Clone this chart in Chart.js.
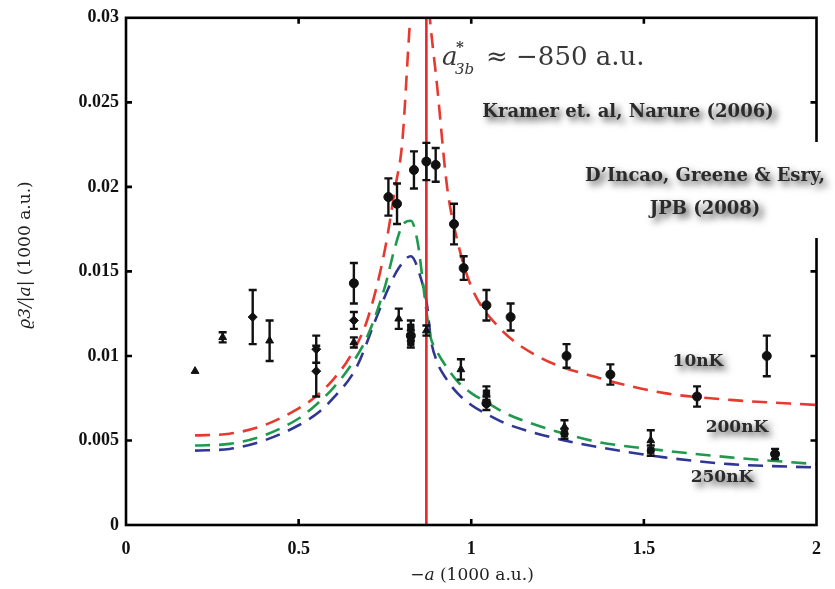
<!DOCTYPE html>
<html>
<head>
<meta charset="utf-8">
<script src="https://cdn.jsdelivr.net/npm/chart.js@4"></script>
<style>
  html, body { margin: 0; padding: 0; background: #fff; }
  #wrap { width: 835px; height: 589px; }
</style>
</head>
<body>
<div id="wrap"><canvas id="plot" width="835" height="589"></canvas></div>
<script>
// measured three-body loss points: -a (1000 a.u.), value, error, marker
const expX = [0.20, 0.28, 0.367, 0.416, 0.551, 0.551, 0.66, 0.66, 0.66, 0.76, 0.785, 0.79, 0.825, 0.825, 0.825,
  0.834, 0.87, 0.87, 0.897, 0.95, 0.97, 0.978, 1.044, 1.044, 1.044, 1.114, 1.27, 1.27, 1.276, 1.403,
  1.52, 1.52, 1.654, 1.856, 1.88];
const expY = [0.0091, 0.0111, 0.0123, 0.0109, 0.0104, 0.0091, 0.0143, 0.0121, 0.0108, 0.0194, 0.0190, 0.0122, 0.0117, 0.0112, 0.0108,
  0.0210, 0.0215, 0.0115, 0.0213, 0.0178, 0.0092, 0.0152, 0.0130, 0.0078, 0.0072, 0.0123, 0.0058, 0.0054, 0.0100, 0.0089,
  0.0050, 0.0044, 0.0076, 0.0100, 0.0042];
const expErr = [0.0002, 0.0003, 0.0016, 0.0012, 0.0008, 0.0015, 0.0012, 0.0005, 0.0003, 0.0011, 0.0012, 0.0006, 0.0004, 0.0003, 0.0003,
  0.0011, 0.0011, 0.0003, 0.0010, 0.0012, 0.0006, 0.0007, 0.0009, 0.0004, 0.0004, 0.0008, 0.0004, 0.0003, 0.0007, 0.0006,
  0.0006, 0.0003, 0.0006, 0.0012, 0.0003];
const expMarker = ['triangle', 'triangle', 'rectRot', 'triangle', 'rectRot', 'rectRot', 'circle', 'rectRot', 'triangle', 'circle', 'circle', 'triangle', 'rect', 'circle', 'rect',
  'circle', 'circle', 'triangle', 'circle', 'circle', 'triangle', 'circle', 'circle', 'rect', 'circle', 'circle', 'triangle', 'rect', 'circle', 'circle',
  'triangle', 'rect', 'circle', 'circle', 'circle'];

// theory curves at 10 nK, 200 nK and 250 nK
const x10 = [0.20, 0.30, 0.40, 0.50, 0.55, 0.60, 0.65, 0.70, 0.75, 0.78, 0.80, 0.82, 0.85, 0.88, 0.90, 0.93, 0.96, 1.00, 1.08, 1.20, 1.37, 1.56, 1.75, 2.00];
const y10 = [0.0053, 0.0054, 0.0059, 0.0069, 0.0076, 0.0086, 0.0100, 0.0122, 0.0163, 0.0200, 0.0226, 0.0290, 0.0380, 0.0300, 0.0262, 0.0200, 0.0168, 0.0141, 0.0117, 0.0099, 0.0087, 0.0078, 0.0074, 0.0071];
const x200 = [0.20, 0.30, 0.40, 0.50, 0.55, 0.60, 0.65, 0.70, 0.75, 0.78, 0.80, 0.825, 0.845, 0.865, 0.88, 0.90, 0.93, 0.96, 1.00, 1.05, 1.10, 1.175, 1.27, 1.37, 1.56, 1.75, 2.00];
const y200 = [0.0047, 0.0048, 0.0053, 0.0063, 0.0071, 0.0081, 0.0094, 0.0112, 0.0141, 0.0165, 0.0177, 0.0180, 0.0167, 0.0135, 0.0113, 0.0103, 0.0093, 0.0085, 0.0078, 0.0072, 0.0066, 0.0060, 0.0054, 0.0049, 0.0044, 0.0040, 0.0036];
const x250 = [0.20, 0.30, 0.40, 0.50, 0.56, 0.60, 0.667, 0.724, 0.76, 0.79, 0.825, 0.854, 0.872, 0.883, 0.90, 0.926, 0.96, 1.00, 1.05, 1.10, 1.175, 1.27, 1.37, 1.56, 1.75, 2.00];
const y250 = [0.0044, 0.0045, 0.0050, 0.0059, 0.0067, 0.0075, 0.0093, 0.0122, 0.0140, 0.0152, 0.0159, 0.0146, 0.0130, 0.0110, 0.0097, 0.0087, 0.0078, 0.0071, 0.0065, 0.0060, 0.0055, 0.0050, 0.0046, 0.0040, 0.0036, 0.0034];

const aStar = 0.87; // resonance position, 1000 a.u.

const xTickLabels = ['0', '0.5', '1', '1.5', '2'];
const yTickLabels = ['0', '0.005', '0.01', '0.015', '0.02', '0.025', '0.03'];

const tickFont = '"Liberation Serif", serif';
const textFont = '"DejaVu Serif", serif';

const pts = (xs, ys) => xs.map((v, i) => ({ x: v, y: ys[i] }));

function curve(label, xs, ys, color) {
  return {
    type: 'line',
    label: label,
    data: pts(xs, ys),
    borderColor: color,
    borderWidth: 2.6,
    borderDash: [15, 9],
    pointRadius: 0,
    fill: false,
    cubicInterpolationMode: 'monotone',
  };
}

function shadowText(ctx, txt, x, y, font) {
  ctx.save();
  ctx.font = font;
  ctx.textAlign = 'center';
  ctx.textBaseline = 'middle';
  ctx.shadowColor = 'rgba(0,0,0,0.75)';
  ctx.shadowBlur = 7;
  ctx.shadowOffsetX = 4;
  ctx.shadowOffsetY = 4;
  ctx.fillStyle = '#2b2b2b';
  ctx.fillText(txt, x, y);
  ctx.restore();
}

const decor = {
  id: 'decor',
  afterDatasetsDraw(chart) {
    const { ctx, scales: { x, y } } = chart;
    ctx.save();
    ctx.strokeStyle = '#111';
    ctx.lineWidth = 2.4;
    expX.forEach((v, i) => {
      if (expErr[i] < 0.00025) return;
      const px = x.getPixelForValue(v);
      const top = y.getPixelForValue(expY[i] + expErr[i]);
      const bot = y.getPixelForValue(expY[i] - expErr[i]);
      ctx.beginPath();
      ctx.moveTo(px, top); ctx.lineTo(px, bot);
      ctx.moveTo(px - 4, top); ctx.lineTo(px + 4, top);
      ctx.moveTo(px - 4, bot); ctx.lineTo(px + 4, bot);
      ctx.stroke();
    });
    ctx.restore();
  },
  afterDraw(chart) {
    const { ctx, chartArea: a, scales: { x, y } } = chart;
    ctx.save();
    // frame with inward ticks on all sides
    ctx.strokeStyle = '#000';
    ctx.lineWidth = 2.6;
    ctx.strokeRect(a.left, a.top, a.right - a.left, a.bottom - a.top);
    ctx.beginPath();
    [0.5, 1, 1.5].forEach(v => {
      const px = x.getPixelForValue(v);
      ctx.moveTo(px, a.bottom); ctx.lineTo(px, a.bottom - 6);
      ctx.moveTo(px, a.top); ctx.lineTo(px, a.top + 6);
    });
    [0.005, 0.01, 0.015, 0.02, 0.025].forEach(v => {
      const py = y.getPixelForValue(v);
      ctx.moveTo(a.left, py); ctx.lineTo(a.left + 6, py);
      ctx.moveTo(a.right, py); ctx.lineTo(a.right - 6, py);
    });
    ctx.stroke();

    // resonance annotation
    ctx.fillStyle = '#383838';
    ctx.textBaseline = 'alphabetic';
    ctx.textAlign = 'left';
    ctx.font = 'italic 26px ' + textFont;
    ctx.fillText('a', 442, 65);
    ctx.font = 'bold 15px ' + textFont;
    ctx.fillText('*', 456, 52);
    ctx.font = 'italic 15px ' + textFont;
    ctx.fillText('3b', 455, 74);
    ctx.font = '26px ' + textFont;
    ctx.fillText('\u2248 \u2212850 a.u.', 486, 65);

    // citation box over the right edge
    ctx.fillStyle = '#fff';
    ctx.fillRect(572, 142, 263, 96);
    ctx.restore();

    shadowText(ctx, 'Kramer et. al, Narure (2006)', 628, 112, 'bold 18px ' + textFont);
    shadowText(ctx, 'D\u2019Incao, Greene & Esry,', 705, 176, 'bold 18px ' + textFont);
    shadowText(ctx, 'JPB (2008)', 705, 209, 'bold 18px ' + textFont);
    shadowText(ctx, '10nK', 698, 362, 'bold 17px ' + textFont);
    shadowText(ctx, '200nK', 737, 428, 'bold 17px ' + textFont);
    shadowText(ctx, '250nK', 722, 478, 'bold 17px ' + textFont);

    // axis titles
    ctx.save();
    ctx.fillStyle = '#222';
    ctx.textBaseline = 'middle';
    ctx.textAlign = 'left';
    const xt1 = '\u2212', xt2 = 'a', xt3 = ' (1000 a.u.)';
    ctx.font = '17px ' + textFont;
    const w1 = ctx.measureText(xt1).width, w3 = ctx.measureText(xt3).width;
    ctx.font = 'italic 17px ' + textFont;
    const w2 = ctx.measureText(xt2).width;
    let sx = 472 - (w1 + w2 + w3) / 2;
    ctx.font = '17px ' + textFont; ctx.fillText(xt1, sx, 576); sx += w1;
    ctx.font = 'italic 17px ' + textFont; ctx.fillText(xt2, sx, 576); sx += w2;
    ctx.font = '17px ' + textFont; ctx.fillText(xt3, sx, 576);

    ctx.translate(26, 255);
    ctx.rotate(-Math.PI / 2);
    const yt1 = '\u03f13/|', yt2 = 'a', yt3 = '| (1000 a.u.)';
    ctx.font = 'italic 17px ' + textFont;
    const v1 = ctx.measureText(yt1).width, v2 = ctx.measureText(yt2).width;
    ctx.font = '17px ' + textFont;
    const v3 = ctx.measureText(yt3).width;
    let sy = -(v1 + v2 + v3) / 2;
    ctx.font = 'italic 17px ' + textFont; ctx.fillText(yt1, sy, 0); sy += v1;
    ctx.fillText(yt2, sy, 0); sy += v2;
    ctx.font = '17px ' + textFont; ctx.fillText(yt3, sy, 0);
    ctx.restore();
  }
};

new Chart(document.getElementById('plot').getContext('2d'), {
  type: 'scatter',
  data: {
    datasets: [
      {
        label: 'experiment',
        data: pts(expX, expY),
        pointStyle: expMarker,
        pointRadius: 4.5,
        backgroundColor: '#111',
        borderColor: '#111',
        borderWidth: 1,
      },
      {
        type: 'line',
        label: 'a*',
        data: [{ x: aStar, y: 0 }, { x: aStar, y: 0.03 }],
        borderColor: '#e8262a',
        borderWidth: 2.6,
        pointRadius: 0,
      },
      curve('10nK', x10, y10, '#e8392f'),
      curve('200nK', x200, y200, '#1e9a4c'),
      curve('250nK', x250, y250, '#2f3792'),
    ],
  },
  options: {
    responsive: false,
    animation: { duration: 0 },
    layout: { padding: { left: 0, top: 16, right: 16, bottom: 0 } },
    plugins: { legend: { display: false }, tooltip: { enabled: false } },
    scales: {
      x: {
        type: 'linear',
        min: 0, max: 2,
        grid: { display: false, drawTicks: false },
        border: { display: false },
        afterFit: s => { s.height = 64; },
        afterBuildTicks: s => { s.ticks = xTickLabels.map(t => ({ value: parseFloat(t) })); },
        ticks: {
          padding: 14,
          color: '#111',
          font: { family: tickFont, size: 18, weight: 'bold' },
          callback: (v, i) => xTickLabels[i],
        },
      },
      y: {
        type: 'linear',
        min: 0, max: 0.03,
        grid: { display: false, drawTicks: false },
        border: { display: false },
        afterFit: s => { s.width = 126; },
        afterBuildTicks: s => { s.ticks = yTickLabels.map(t => ({ value: parseFloat(t) })); },
        ticks: {
          padding: 7,
          color: '#111',
          font: { family: tickFont, size: 18, weight: 'bold' },
          callback: (v, i) => yTickLabels[i],
        },
      },
    },
  },
  plugins: [decor],
});
</script>
</body>
</html>
